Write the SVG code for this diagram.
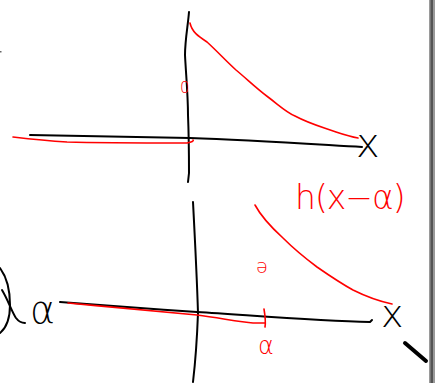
<svg xmlns="http://www.w3.org/2000/svg" width="440" height="383" viewBox="0 0 440 383">
<style>
.ink{fill:none;stroke:#000;stroke-width:2;stroke-linecap:round;stroke-linejoin:round}
.red{fill:none;stroke:#f00;stroke-width:1.6;stroke-linecap:round;stroke-linejoin:round}
.rt{fill:#f00;font-family:"DejaVu Sans",sans-serif;font-weight:200}
.bt{fill:#000;font-family:"DejaVu Sans",sans-serif;font-weight:200}
</style>
<rect width="440" height="383" fill="#fff"/>
<g id="top-graph">
<path class="ink" d="M189,12 C188,25 185,40 185,55 C186,75 188,95 188,115 C189,140 189,160 189,173 L188,182"/>
<path class="ink" d="M30,135 C80,136 140,137 190,138 C250,140 310,144 362,147"/>
<path class="red" d="M190,23 C192,32 198,36 207,42 C218,52 225,60 236,70 C248,80 256,88 268,97 C280,106 286,112 295,116 C310,124 322,127 336,132 C345,135 352,137 358,138"/>
<path class="red" d="M13,137 C30,139 50,141 67,142 C100,143 140,143 187,143 C192,142 194,141 193,140"/>
<text class="rt" x="180" y="93" font-size="15">0</text>
<text class="bt" x="356" y="157" font-size="40">x</text>
</g>
<g id="label">
<text class="rt" x="295" y="209" font-size="33" letter-spacing="-1">h(x−α)</text>
</g>
<g id="bottom-graph">
<path class="ink" d="M193,202 C195,240 197,280 198,313 C197,340 195,365 193,382"/>
<path class="ink" d="M60,302 C100,305 150,309 197,312 C260,316 320,321 370,322 C371,321 372,320 372,320"/>
<path class="red" d="M255,205 C262,218 272,228 283,238 C295,250 305,258 317,267 C330,276 342,284 353,290 C365,296 378,301 392,304"/>
<path class="red" d="M68,303 C110,307 150,311 197,315 C220,318 240,322 253,323 C258,323 262,323 265,323"/>
<path class="red" d="M264,309 C265,315 266,321 265,327"/>
<text class="rt" x="256" y="273" font-size="19">ə</text>
<text class="rt" x="258" y="354" font-size="24">α</text>
<text class="bt" x="381" y="327" font-size="38">x</text>
<text class="bt" x="30" y="323" font-size="38" font-weight="400">α</text>
<path class="ink" d="M0,268 C6,276 10,290 10,305 C10,318 6,328 0,333"/>
<path class="ink" d="M2,290 C8,300 12,312 16,318 C19,322 22,323 25,323"/>
</g>
<g id="frame">
<rect x="429" y="0" width="6" height="383" fill="#9a9a9a"/>
<rect x="430.5" y="0" width="2.5" height="383" fill="#555"/>
<path d="M405,343 L426,361" stroke="#000" stroke-width="4" stroke-linecap="round"/>
<rect x="0" y="51" width="1.5" height="1.5" fill="#666"/>
</g>
</svg>
